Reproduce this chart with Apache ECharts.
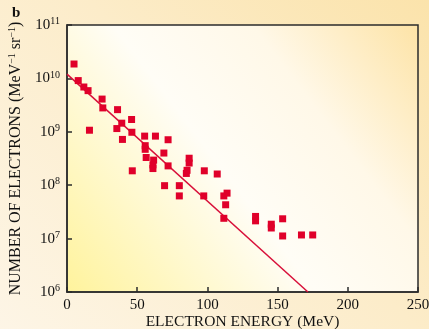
<!DOCTYPE html>
<html><head><meta charset="utf-8">
<script src="https://cdn.jsdelivr.net/npm/echarts@6/dist/echarts.min.js"></script>
<style>
html,body{margin:0;padding:0;}
body{width:429px;height:329px;background:linear-gradient(225deg,#fbe3ab 0%,#fcecc9 45%,#fdf5e6 100%);}
#c{width:429px;height:329px;}
</style></head><body><div id="c"></div>
<script>
// Electron energy (MeV)
var energy = [5, 8, 12, 15, 16, 25, 25.5, 36, 35.5, 39, 39.5, 46, 46.2, 46.5, 55.3, 55.7, 55.7, 56.4, 63, 72, 69, 61.7, 61.2, 61.2, 72, 87, 87, 85.5, 85, 97.8, 107, 69.5, 80, 80, 97.4, 114, 111.7, 113, 111.7, 134.3, 134.3, 145.5, 145.5, 153.6, 153.6, 167, 175];
// Number of electrons (MeV^-1 sr^-1)
var electrons = [1.86e10, 9.1e9, 6.9e9, 5.9e9, 1.07e9, 4.1e9, 2.8e9, 2.6e9, 1.15e9, 1.45e9, 7.2e8, 1.7e9, 9.8e8, 1.86e8, 8.3e8, 5.5e8, 4.7e8, 3.3e8, 8.3e8, 7.1e8, 4.0e8, 2.95e8, 2.4e8, 2.05e8, 2.3e8, 3.2e8, 2.6e8, 1.9e8, 1.66e8, 1.86e8, 1.62e8, 9.8e7, 9.8e7, 6.3e7, 6.3e7, 7.1e7, 6.3e7, 4.3e7, 2.4e7, 2.6e7, 2.15e7, 1.86e7, 1.58e7, 2.35e7, 1.12e7, 1.17e7, 1.17e7];
// Fitted line endpoints
var fitEnergy = [0, 171.6];
var fitElectrons = [1.2e10, 1e6];
var xTicks = [0, 50, 100, 150, 200, 250];
var yMin = 1e6, yMax = 1e11;

var font = 'Liberation Serif';
var chart = echarts.init(document.getElementById('c'), null, {renderer:'canvas'});
chart.setOption({
  backgroundColor: 'transparent',
  animation: false,
  grid: {
    left: 67, right: 11, top: 25, bottom: 37,
    containLabel: false, outerBoundsMode: 'none',
    show: true,
    borderColor: '#2b2b2b', borderWidth: 1.5,
    backgroundColor: {type:'linear', x:0, y:1, x2:1, y2:0, colorStops:[
      {offset:0, color:'#fff39c'}, {offset:0.45, color:'#fffdf6'}, {offset:0.7, color:'#fff8e8'}, {offset:1, color:'#fde3a6'}]}
  },
  graphic: [{type:'text', left: 12, top: 6, style:{text:'b', font:'bold 15px "Liberation Serif"', fill:'#111'}}],
  xAxis: {
    type: 'value', min: xTicks[0], max: xTicks[xTicks.length-1], interval: 50,
    name: 'ELECTRON ENERGY (MeV)', nameLocation: 'middle', nameGap: 22, nameMoveOverlap: false,
    nameTextStyle: {fontFamily: font, fontSize: 15.5, color: '#111'},
    axisLine: {lineStyle:{color:'#2b2b2b', width:1.5}},
    axisTick: {inside: true, length: 5, lineStyle:{color:'#2b2b2b', width:1.5}},
    axisLabel: {fontFamily: font, fontSize: 15, color:'#111', margin: 6},
    splitLine: {show:false}
  },
  yAxis: {
    type: 'log', logBase: 10, min: yMin, max: yMax,
    name: 'NUMBER OF ELECTRONS (MeV{sup|−1} sr{sup|−1})', nameLocation: 'middle', nameGap: 43, nameRotate: 90, nameMoveOverlap: false,
    nameTextStyle: {fontFamily: font, fontSize: 16, color: '#111', rich: {sup:{fontFamily: font, fontSize: 10, color:'#111', verticalAlign:'top', padding:[0,0,7,0]}}},
    axisLine: {show:true, lineStyle:{color:'#2b2b2b', width:1.5}},
    axisTick: {inside: true, length: 5, lineStyle:{color:'#2b2b2b', width:1.5}},
    minorTick: {show:false},
    axisLabel: {fontFamily: font, fontSize: 15, color:'#111', margin: 7,
      formatter: function(v){ return '10{sup|' + Math.round(Math.log10(v)) + '}'; },
      rich: {sup:{fontFamily: font, fontSize: 10, color:'#111', verticalAlign:'top', padding:[0,0,7,0]}}},
    splitLine: {show:false}
  },
  series: [
    {type:'line', data: fitEnergy.map(function(x,i){return [x, fitElectrons[i]];}), symbol:'none',
     lineStyle:{color:'#d8103a', width:1.5}, z: 2},
    {type:'scatter', data: energy.map(function(x,i){return [x, electrons[i]];}), symbol:'rect', symbolSize: 7,
     itemStyle:{color:'#e0002a', opacity:1}, z: 3}
  ]
});
</script></body></html>
